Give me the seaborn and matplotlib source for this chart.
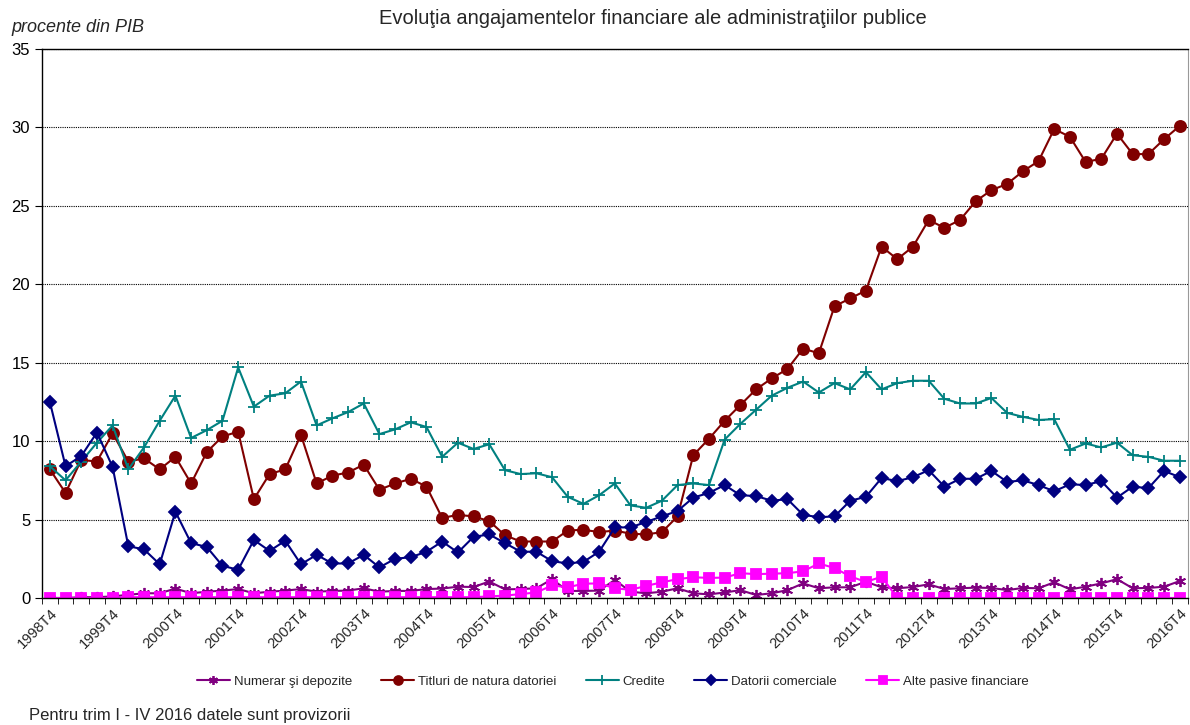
import numpy as np
import matplotlib
matplotlib.use("Agg")
import matplotlib.pyplot as plt
import seaborn as sns
import pandas as pd

sns.set_style("white")
plt.rcParams['font.family'] = ['Liberation Sans', 'DejaVu Sans']

# trimestre 1998T4 ... 2016T4
quarters = ["1998T4"] + [f"{y}T{q}" for y in range(1999, 2017) for q in range(1, 5)]

numerar = [0.0, 0.0, 0.05, 0.05, 0.1, 0.2, 0.3, 0.3, 0.6, 0.3, 0.4, 0.47, 0.57, 0.3, 0.4, 0.47,
           0.57, 0.4, 0.45, 0.47, 0.62, 0.4, 0.45, 0.45, 0.57, 0.6, 0.72, 0.7, 1.05, 0.55, 0.57, 0.62,
           1.2, 0.45, 0.45, 0.47, 1.15, 0.4, 0.3, 0.4, 0.62, 0.3, 0.23, 0.35, 0.5, 0.19, 0.3, 0.5,
           0.93, 0.62, 0.68, 0.68, 1.04, 0.68, 0.62, 0.7, 0.87, 0.57, 0.62, 0.66, 0.64, 0.5, 0.64, 0.62,
           1.0, 0.55, 0.72, 0.93, 1.2, 0.62, 0.64, 0.72, 1.08]

titluri = [8.2, 6.7, 8.8, 8.7, 10.5, 8.7, 8.9, 8.2, 9.0, 7.3, 9.3, 10.3, 10.6, 6.3, 7.9, 8.2,
           10.4, 7.3, 7.8, 8.0, 8.5, 6.9, 7.3, 7.6, 7.1, 5.1, 5.3, 5.2, 4.9, 4.0, 3.6, 3.6,
           3.6, 4.3, 4.35, 4.2, 4.3, 4.1, 4.05, 4.2, 5.2, 9.1, 10.15, 11.3, 12.3, 13.3, 14.0, 14.6,
           15.9, 15.6, 18.6, 19.1, 19.6, 22.4, 21.6, 22.4, 24.1, 23.6, 24.1, 25.3, 26.0, 26.4, 27.2, 27.85,
           29.9, 29.4, 27.8, 28.0, 29.6, 28.3, 28.3, 29.25, 30.1]

credite = [8.4, 7.5, 8.7, 9.9, 11.0, 8.2, 9.6, 11.3, 12.9, 10.2, 10.7, 11.3, 14.7, 12.2, 12.9, 13.05,
           13.8, 11.0, 11.45, 11.85, 12.4, 10.45, 10.75, 11.2, 10.9, 9.0, 9.9, 9.5, 9.8, 8.15, 7.9, 7.95,
           7.7, 6.45, 6.0, 6.55, 7.3, 5.9, 5.75, 6.2, 7.2, 7.3, 7.2, 10.1, 11.1, 12.0, 12.9, 13.4,
           13.8, 13.1, 13.7, 13.3, 14.4, 13.3, 13.7, 13.85, 13.85, 12.7, 12.4, 12.4, 12.75, 11.8, 11.55, 11.35,
           11.4, 9.45, 9.85, 9.6, 9.9, 9.1, 9.0, 8.75, 8.75]

datorii = [12.5, 8.4, 9.05, 10.55, 8.35, 3.3, 3.1, 2.15, 5.5, 3.5, 3.25, 2.05, 1.8, 3.7, 3.0, 3.65,
           2.15, 2.75, 2.2, 2.2, 2.75, 1.95, 2.5, 2.6, 2.95, 3.6, 2.9, 3.9, 4.05, 3.5, 2.95, 2.95,
           2.35, 2.2, 2.3, 2.95, 4.5, 4.5, 4.85, 5.2, 5.55, 6.4, 6.7, 7.2, 6.55, 6.5, 6.2, 6.3,
           5.3, 5.15, 5.2, 6.2, 6.45, 7.65, 7.45, 7.7, 8.15, 7.1, 7.6, 7.6, 8.1, 7.4, 7.5, 7.2,
           6.8, 7.25, 7.2, 7.45, 6.4, 7.1, 7.0, 8.1, 7.7]

alte = [0.0, 0.0, 0.0, 0.0, 0.0, 0.05, 0.05, 0.05, 0.05, 0.05, 0.05, 0.05, 0.05, 0.05, 0.05, 0.05,
        0.05, 0.05, 0.05, 0.05, 0.05, 0.05, 0.05, 0.05, 0.05, 0.05, 0.05, 0.05, 0.1, 0.15, 0.25, 0.35,
        0.8, 0.68, 0.91, 0.93, 0.62, 0.52, 0.77, 1.0, 1.2, 1.32, 1.28, 1.3, 1.58, 1.52, 1.55, 1.58,
        1.7, 2.2, 1.91, 1.38, 1.02, 1.36, 0.0, 0.0, 0.0, 0.0, 0.0, 0.0, 0.0, 0.0, 0.0, 0.0,
        0.0, 0.0, 0.0, 0.0, 0.0, 0.0, 0.0, 0.0, 0.0]

series_names = ["Numerar şi depozite", "Titluri de natura datoriei", "Credite",
                "Datorii comerciale", "Alte pasive financiare"]
series_vals = [numerar, titluri, credite, datorii, alte]
colors = ["#800080", "#800000", "#008080", "#000080", "#FF00FF"]
markers = [(6, 2, 0), "o", "+", "D", "s"]
msizes = [8, 8, 9, 6.5, 7.5]

df = pd.DataFrame({"trimestru": quarters})
df["idx"] = np.arange(len(quarters))
for name, vals in zip(series_names, series_vals):
    df[name] = vals

fig, ax = plt.subplots(figsize=(11.9, 7.25), dpi=100)
fig.subplots_adjust(left=0.0353, right=0.998, top=0.9324, bottom=0.1752)

ax.yaxis.grid(True, linestyle=(0, (1, 1)), color="black", linewidth=0.8)
ax.set_axisbelow(True)

for name, c, m, ms in zip(series_names, colors, markers, msizes):
    sns.lineplot(data=df, x="idx", y=name, ax=ax, color=c, marker=m, markersize=ms,
                 markeredgecolor=c, markerfacecolor=c, markeredgewidth=1.3,
                 linewidth=1.5, label=name, legend=False)

ax.set_xlim(-0.5, len(quarters) - 0.5)
ax.set_ylim(0, 35)
ax.set_yticks(range(0, 36, 5))
ax.tick_params(axis="y", labelsize=12, length=5, direction="out", left=True, colors="black")

lab_pos = [i for i, q in enumerate(quarters) if q.endswith("T4")]
ax.set_xticks(lab_pos)
ax.set_xticklabels([quarters[i] for i in lab_pos], rotation=45, ha="right",
                   rotation_mode="anchor", fontsize=10.5)
ax.tick_params(axis="x", which="major", length=0, pad=6)
ax.set_xticks(np.arange(-0.5, len(quarters), 1), minor=True)
ax.tick_params(axis="x", which="minor", length=4, direction="out", bottom=True, color="black")

ax.set_xlabel("")
ax.set_ylabel("")
for s in ["left", "bottom", "top"]:
    ax.spines[s].set_color("black")
    ax.spines[s].set_linewidth(1.0)
ax.spines["right"].set_color("#999999")

fig.text(0.549, 0.975, "Evoluţia angajamentelor financiare ale administraţiilor publice",
         ha="center", va="center", fontsize=14.5)
fig.text(0.01, 0.962, "procente din PIB", ha="left", va="center", fontsize=13, style="italic")
fig.text(0.024, 0.003, "Pentru trim I - IV 2016 datele sunt provizorii", ha="left",
         va="bottom", fontsize=12)

handles, labels = ax.get_legend_handles_labels()
fig.legend(handles, labels, loc="center", bbox_to_anchor=(0.515, 0.06), ncol=5,
           frameon=False, fontsize=9.5, handlelength=2.5, columnspacing=2.2, handletextpad=0.3,
           markerscale=0.8)

fig.savefig("out.png", dpi=100)
